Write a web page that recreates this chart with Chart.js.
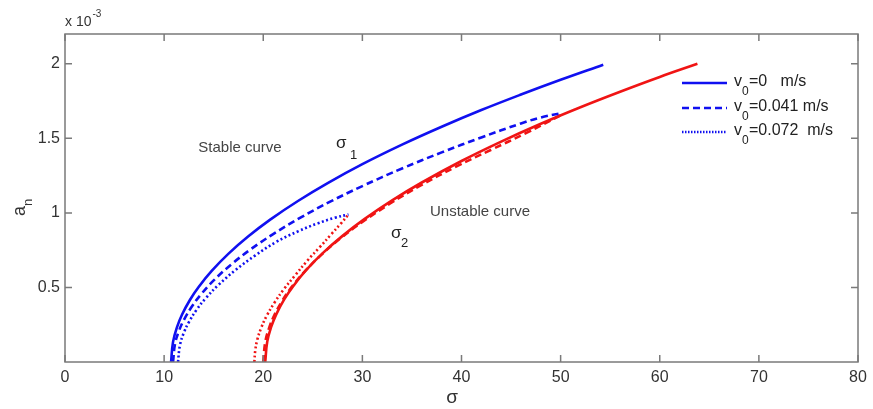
<!DOCTYPE html>
<html>
<head>
<meta charset="utf-8">
<script src="https://cdn.jsdelivr.net/npm/chart.js@4.4.0/dist/chart.umd.min.js"></script>
<style>
  html, body { margin: 0; padding: 0; background: #fff; }
</style>
</head>
<body>
<canvas id="chart" width="873" height="409"></canvas>
<script>
// tick labels
const xTicks = [0, 10, 20, 30, 40, 50, 60, 70, 80];
const yTicks = [0.5, 1, 1.5, 2];

// a_n values are in units of 10^-3
// stable curve (sigma_1), v0 = 0
const sigmaBlueSolid = [10.7, 10.9, 11.3, 11.8, 12.6, 13.5, 14.8, 16.5, 18.5, 20.7, 23.5, 26.5, 30, 34, 38, 42, 46, 50, 54.3];
const anBlueSolid = [0, 0.135, 0.234, 0.317, 0.416, 0.505, 0.611, 0.727, 0.843, 0.955, 1.08, 1.2, 1.327, 1.458, 1.578, 1.69, 1.794, 1.893, 1.994];
// stable curve, v0 = 0.041
const sigmaBlueDash = [10.9, 11.1, 11.5, 12.0, 12.8, 13.7, 15, 16.8, 18.8, 21, 23.8, 26.8, 30, 34, 38, 42, 46, 48, 50];
const anBlueDash = [0, 0.121, 0.209, 0.283, 0.372, 0.452, 0.547, 0.656, 0.759, 0.858, 0.97, 1.077, 1.18, 1.298, 1.406, 1.506, 1.6, 1.64, 1.668];
// stable curve, v0 = 0.072
const sigmaBlueDot = [11.4, 11.6, 12.0, 12.5, 13.3, 14.2, 15.5, 17.2, 19.2, 21.3, 23.5, 25.5, 27.2, 28.6];
const anBlueDot = [0, 0.114, 0.198, 0.268, 0.353, 0.428, 0.518, 0.617, 0.715, 0.805, 0.876, 0.93, 0.967, 0.99];

// unstable curve (sigma_2), v0 = 0
const sigmaRedSolid = [20.2, 20.4, 20.8, 21.3, 22.1, 23.0, 24.3, 26.0, 28.0, 30.2, 33, 36, 40, 44, 48, 52, 56, 60, 63.8];
const anRedSolid = [0, 0.135, 0.235, 0.318, 0.418, 0.507, 0.614, 0.73, 0.846, 0.958, 1.084, 1.204, 1.348, 1.478, 1.598, 1.709, 1.813, 1.912, 2.0];
// unstable curve, v0 = 0.041
const sigmaRedDash = [20.0, 20.2, 20.6, 21.1, 21.9, 22.8, 24.1, 25.8, 27.8, 30.0, 32.8, 35.8, 39.5, 43, 46.5, 50];
const anRedDash = [0, 0.133, 0.23, 0.312, 0.409, 0.497, 0.601, 0.715, 0.83, 0.939, 1.063, 1.181, 1.312, 1.424, 1.535, 1.655];
// unstable curve, v0 = 0.072
const sigmaRedDot = [19.1, 19.2, 19.4, 19.8, 20.35, 21.15, 22.1, 23.2, 24.45, 25.7, 26.9, 27.85, 28.6];
const anRedDot = [0, 0.08, 0.15, 0.23, 0.31, 0.4, 0.49, 0.58, 0.68, 0.77, 0.86, 0.93, 0.99];

const legendLabels = ["=0   m/s", "=0.041 m/s", "=0.072  m/s"];

const BLUE = "#1010f0";
const RED = "#f01414";
const DASH = [7, 4];
const DOT = [2, 2.5];
const FONT = "'Liberation Sans', Arial, sans-serif";

const toPoints = (xs, ys) => xs.map((x, i) => ({ x: x, y: ys[i] }));

const makeSet = (xs, ys, color, dash) => ({
  data: toPoints(xs, ys),
  borderColor: color,
  borderWidth: 2.6,
  borderDash: dash,
  pointRadius: 0,
  showLine: true,
  fill: false,
  tension: 0.4,
});

// box, inward ticks, annotations and legend
const decorations = {
  id: "decorations",
  afterDraw(chart) {
    const ctx = chart.ctx;
    const area = chart.chartArea;
    const xs = chart.scales.x;
    const ys = chart.scales.y;
    const tl = 7;

    ctx.save();
    ctx.strokeStyle = "#7a7a7a";
    ctx.lineWidth = 1.5;
    ctx.setLineDash([]);
    ctx.strokeRect(area.left, area.top, area.right - area.left, area.bottom - area.top);

    ctx.beginPath();
    xTicks.forEach((v) => {
      const px = xs.getPixelForValue(v);
      ctx.moveTo(px, area.bottom);
      ctx.lineTo(px, area.bottom - tl);
      ctx.moveTo(px, area.top);
      ctx.lineTo(px, area.top + tl);
    });
    yTicks.forEach((v) => {
      const py = ys.getPixelForValue(v);
      ctx.moveTo(area.left, py);
      ctx.lineTo(area.left + tl, py);
      ctx.moveTo(area.right, py);
      ctx.lineTo(area.right - tl, py);
    });
    ctx.stroke();

    // texts
    ctx.fillStyle = "#333";
    ctx.textBaseline = "middle";
    ctx.textAlign = "left";

    // exponent label
    ctx.font = "14px " + FONT;
    ctx.fillText("x 10", area.left, 22);
    const w10 = ctx.measureText("x 10").width;
    ctx.font = "10px " + FONT;
    ctx.fillText("-3", area.left + w10 + 1, 14);

    // x axis title
    ctx.font = "19px " + FONT;
    ctx.textAlign = "center";
    ctx.fillText("σ", 452, 398);

    // y axis title a_n
    ctx.save();
    ctx.translate(20, 210);
    ctx.rotate(-Math.PI / 2);
    ctx.textAlign = "left";
    ctx.font = "18px " + FONT;
    ctx.fillText("a", -6, 0);
    ctx.font = "13px " + FONT;
    ctx.fillText("n", 4, 8);
    ctx.restore();

    // curve annotations
    ctx.fillStyle = "#444";
    ctx.textAlign = "center";
    ctx.font = "15px " + FONT;
    ctx.fillText("Stable curve", 240, 148);
    ctx.fillText("Unstable curve", 480, 212);

    ctx.fillStyle = "#222";
    ctx.textAlign = "left";
    ctx.font = "17px " + FONT;
    ctx.fillText("σ", 336, 143);
    ctx.fillText("σ", 391, 233);
    ctx.font = "13px " + FONT;
    ctx.fillText("1", 350, 155);
    ctx.fillText("2", 401, 243);

    // legend
    const rows = [83, 108, 132];
    const dashes = [[], DASH, [1.5, 1.5]];
    rows.forEach((ry, i) => {
      ctx.strokeStyle = BLUE;
      ctx.lineWidth = 2.5;
      ctx.setLineDash(dashes[i]);
      ctx.beginPath();
      ctx.moveTo(682, ry);
      ctx.lineTo(727, ry);
      ctx.stroke();

      ctx.fillStyle = "#222";
      ctx.font = "16px " + FONT;
      ctx.fillText("v", 734, ry - 1);
      ctx.font = "12px " + FONT;
      ctx.fillText("0", 742, ry + 9);
      ctx.font = "16px " + FONT;
      ctx.fillText(legendLabels[i], 749, ry - 1);
    });
    ctx.restore();
  },
};

new Chart(document.getElementById("chart"), {
  type: "scatter",
  data: {
    datasets: [
      makeSet(sigmaBlueSolid, anBlueSolid, BLUE, []),
      makeSet(sigmaBlueDash, anBlueDash, BLUE, DASH),
      makeSet(sigmaBlueDot, anBlueDot, BLUE, DOT),
      makeSet(sigmaRedSolid, anRedSolid, RED, []),
      makeSet(sigmaRedDash, anRedDash, RED, DASH),
      makeSet(sigmaRedDot, anRedDot, RED, DOT),
    ],
  },
  options: {
    responsive: false,
    animation: false,
    devicePixelRatio: 1,
    layout: { padding: { top: 34, right: 15, left: 0, bottom: 0 } },
    plugins: {
      legend: { display: false },
      tooltip: { enabled: false },
    },
    scales: {
      x: {
        type: "linear",
        min: 0,
        max: 80,
        afterBuildTicks: (scale) => {
          scale.ticks = xTicks.map((v) => ({ value: v }));
        },
        afterFit: (scale) => {
          scale.height = 47;
        },
        grid: { display: false, drawTicks: false },
        border: { display: false },
        ticks: {
          padding: 6,
          color: "#333",
          font: { family: FONT, size: 16 },
          maxRotation: 0,
          callback: (v) => String(v),
        },
      },
      y: {
        type: "linear",
        min: 0,
        max: 2.2,
        afterBuildTicks: (scale) => {
          scale.ticks = yTicks.map((v) => ({ value: v }));
        },
        afterFit: (scale) => {
          scale.width = 65;
        },
        grid: { display: false, drawTicks: false },
        border: { display: false },
        ticks: {
          padding: 5,
          color: "#333",
          font: { family: FONT, size: 16 },
          callback: (v) => String(v),
        },
      },
    },
  },
  plugins: [decorations],
});
</script>
</body>
</html>
